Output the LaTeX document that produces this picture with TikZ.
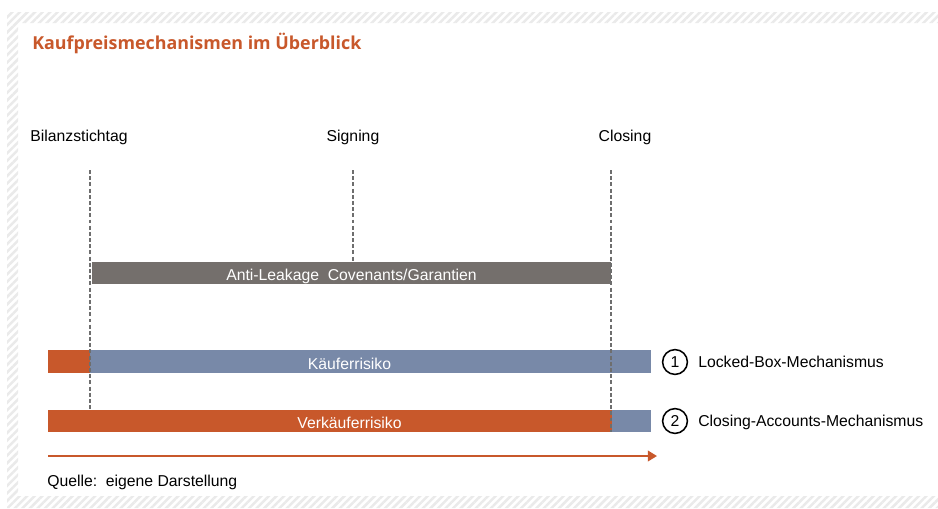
\documentclass[tikz,border=0pt]{standalone}
\usepackage{fontspec}
\setmainfont{Liberation Sans}
\newfontfamily\titlefont{Open Sans}
\usepackage{tikz}
\usetikzlibrary{positioning}
\usetikzlibrary{fit}
\usetikzlibrary{patterns.meta}
\usetikzlibrary{arrows.meta}
\tikzset{>=stealth}
\definecolor{kporange}{HTML}{C8582B}
\definecolor{kpblue}{HTML}{7889A8}
\definecolor{kpgrey}{HTML}{746F6C}
\definecolor{hatchgrey}{HTML}{EAEAEA}
\definecolor{dashgrey}{HTML}{6E6E6E}

\begin{document}
\begin{tikzpicture}[x=0.025cm, y=-0.025cm,
	font=\fontsize{11.2}{13}\selectfont,
	bar/.style={inner sep=0pt, outer sep=0pt},
	bartext/.style={text=white, inner sep=0pt},
	milestone/.style={dashed, dash pattern=on 2.8pt off 1.6pt, line width=0.8pt, draw=dashgrey},
	numcircle/.style={draw, circle, line width=1.1pt, minimum size=0.62cm, inner sep=0pt},
	timeline/.style={draw=kporange, line width=1.4pt, -{Triangle[length=6.5pt,width=7.5pt]}}]
	\useasboundingbox (0,0) rectangle (938,508);
	%% hatched frame
	\fill [pattern={Lines[angle=45,distance=3.8pt,line width=1.8pt]}, pattern color=hatchgrey]
	(7,12) rectangle (938,23) (7,23) rectangle (18,496) (7,496) rectangle (938,508);
	\node [anchor=base west, text=kporange, inner sep=0pt,
	font=\titlefont\bfseries\fontsize{12.7}{15}\selectfont] (title) at (32,49)
	{Kaufpreismechanismen im Überblick};
	%% milestones
	\node [anchor=base] (bilanz) at (79,141) {Bilanzstichtag};
	\node [anchor=base] (signing) at (353,141) {Signing};
	\node [anchor=base] (closing) at (625,141) {Closing};
	\coordinate (bilanz_top) at (90,170);
	\coordinate (signing_top) at (353,170);
	\coordinate (closing_top) at (611,170);
	%% bars
	\node [bar, fill=kpgrey, fit={(92,262) (611,284)}] (leakage) {};
	\node [bar, fill=kpblue, fit={(48,350) (651,373)}] (kaeufer) {};
	\node [bar, fill=kporange, fit={(48,350) (90,373)}] (kaeufer_pre) {};
	\node [bar, fill=kporange, fit={(48,410) (651,432)}] (verkaeufer) {};
	\node [bar, fill=kpblue, fit={(612,410) (651,432)}] (verkaeufer_post) {};
	\node [bartext, anchor=base] (leakage_text) at ([yshift=-5.5pt]leakage.center) {Anti-Leakage\ \ Covenants/Garantien};
	\node [bartext, anchor=base] (kaeufer_text) at ([yshift=-5.5pt]kaeufer.center) {Käuferrisiko};
	\node [bartext, anchor=base] (verkaeufer_text) at ([yshift=-5.5pt]verkaeufer.center) {Verkäuferrisiko};
	%% mechanisms
	\node [numcircle] (num1) at (675,362) {1};
	\node [numcircle] (num2) at (675,421) {2};
	\node [anchor=base west, inner sep=0pt] (lockedbox) at (698,367) {Locked-Box-Mechanismus};
	\node [anchor=base west, inner sep=0pt] (closingacc) at (698,426) {Closing-Accounts-Mechanismus};
	%% dashed lines
	\draw [milestone] (bilanz_top) -- (bilanz_top |- verkaeufer.north);
	\draw [milestone] (signing_top) -- (signing_top |- leakage.north);
	\draw [milestone] (closing_top) -- (closing_top |- verkaeufer.south);
	%% the time arrow
	\coordinate (time_start) at (48,456);
	\coordinate (time_end) at (657,456);
	\path [timeline] (time_start) to (time_end);
	\node [anchor=base west, inner sep=0pt] (quelle) at (47,486) {Quelle:\ \ eigene Darstellung};
\end{tikzpicture}
\end{document}
